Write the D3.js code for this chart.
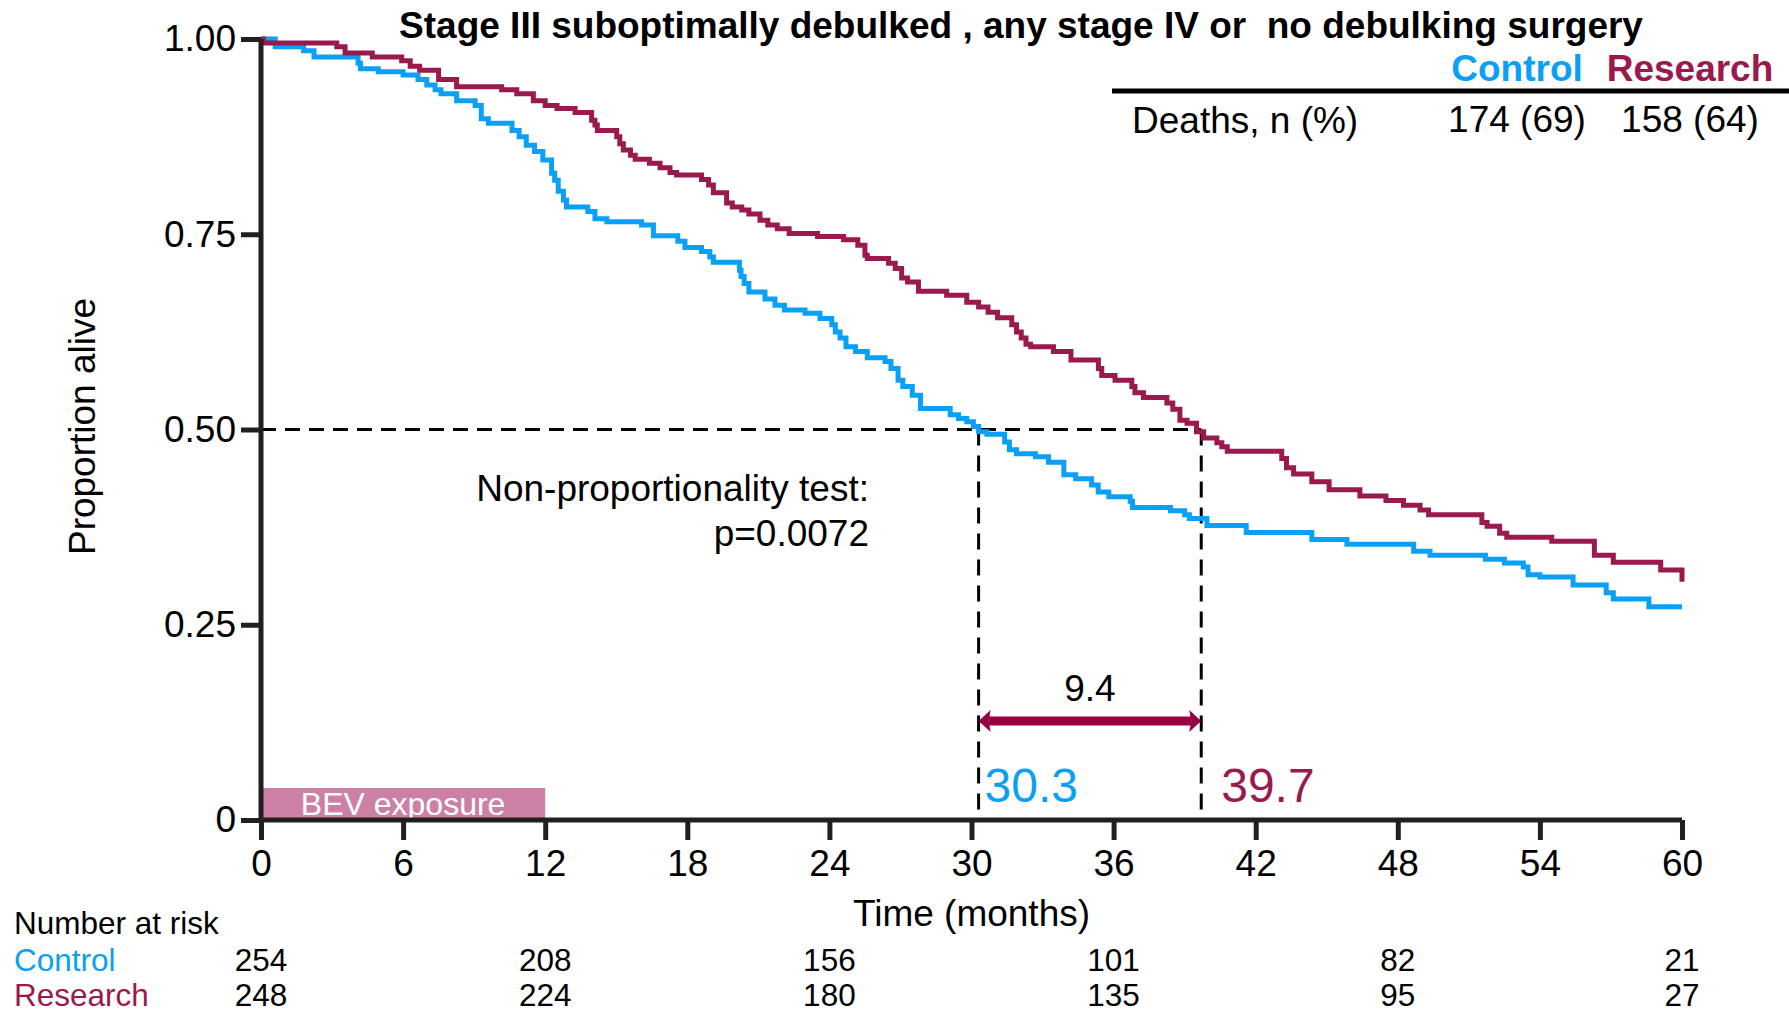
<!DOCTYPE html>
<html>
<head>
<meta charset="utf-8">
<script src="https://cdnjs.cloudflare.com/ajax/libs/d3/7.8.5/d3.min.js"></script>
<style>
    body { margin: 0; background: #fff; }
    svg text { font-family: "Liberation Sans", Arial, sans-serif; }
</style>
</head>
<body>
<div id="chart"></div>
<script>

// Kaplan-Meier steps: time (months) at which the curve drops, and the new proportion
var controlTime = [0, 0.6, 1.8, 2.24, 4.1, 4.2, 4.95, 6.0, 6.63, 7.0, 7.35, 7.6, 8.26, 9.04, 9.3, 9.6, 10.6, 10.9, 11.2, 11.55,
    11.9, 12.27, 12.4, 12.55, 12.77, 12.9, 13.8, 14.1, 14.6, 16.07, 16.57, 17.6, 17.9, 18.6, 18.95, 19.1, 20.2, 20.27, 20.4, 20.6,
    21.28, 21.7, 22.1, 22.97, 23.6, 24.1, 24.25, 24.45, 24.7, 25.1, 25.6, 26.35, 26.6, 26.9, 27.1, 27.5, 27.85, 29.1, 29.45, 29.8,
    30.08, 30.3, 30.65, 31.4, 31.6, 31.9, 32.7, 33.25, 33.9, 34.4, 35.07, 35.35, 35.8, 36.7, 36.8, 38.4, 39.0, 39.2, 39.94, 41.6,
    44.37, 45.85, 48.67, 49.36, 51.7, 52.5, 53.3, 53.5, 54.0, 55.4, 56.8, 57.1, 58.6, 60];
var controlSurv = [1.0, 0.990, 0.985, 0.977, 0.969, 0.962, 0.958, 0.954, 0.948, 0.941, 0.935, 0.930, 0.921, 0.915, 0.898, 0.892, 0.883, 0.875, 0.864, 0.856,
    0.845, 0.828, 0.819, 0.805, 0.794, 0.785, 0.779, 0.770, 0.766, 0.762, 0.748, 0.741, 0.733, 0.728, 0.721, 0.714, 0.704, 0.696, 0.687, 0.676,
    0.667, 0.659, 0.653, 0.649, 0.642, 0.634, 0.625, 0.617, 0.606, 0.600, 0.592, 0.587, 0.578, 0.563, 0.555, 0.544, 0.527, 0.519, 0.514, 0.510,
    0.504, 0.497, 0.494, 0.484, 0.474, 0.469, 0.465, 0.458, 0.442, 0.437, 0.429, 0.420, 0.414, 0.408, 0.400, 0.396, 0.391, 0.386, 0.377, 0.368,
    0.359, 0.353, 0.344, 0.339, 0.334, 0.329, 0.324, 0.314, 0.311, 0.301, 0.291, 0.283, 0.273, 0.273];

var researchTime = [0, 0.1, 3.2, 3.55, 4.7, 5.94, 6.3, 6.7, 7.5, 8.26, 10.16, 10.8, 11.5, 12.0, 12.5, 13.26, 13.96, 14.1, 14.2, 15.02,
    15.15, 15.3, 15.6, 15.8, 16.4, 16.85, 17.27, 17.55, 18.6, 18.9, 19.1, 19.66, 19.9, 20.3, 20.6, 21.07, 21.4, 21.8, 22.3, 23.5,
    24.6, 25.2, 25.5, 25.6, 26.5, 26.78, 27.05, 27.3, 27.76, 28.95, 29.8, 30.3, 30.7, 31.1, 31.7, 31.9, 32.1, 32.3, 32.5, 33.46,
    34.2, 35.36, 35.5, 36.06, 36.77, 36.9, 37.26, 38.25, 38.5, 38.8, 39.1, 39.5, 39.8, 40.36, 40.57, 40.8, 43.1, 43.3, 43.6, 44.37,
    45.1, 46.4, 47.5, 48.24, 48.94, 49.3, 51.55, 51.77, 52.3, 52.6, 54.5, 56.3, 57.1, 59.1, 60, 60];
var researchSurv = [1.0, 0.995, 0.990, 0.982, 0.977, 0.972, 0.965, 0.960, 0.948, 0.939, 0.935, 0.930, 0.921, 0.915, 0.911, 0.906, 0.896, 0.890, 0.883, 0.875,
    0.866, 0.858, 0.851, 0.846, 0.841, 0.835, 0.829, 0.826, 0.820, 0.813, 0.803, 0.790, 0.785, 0.781, 0.776, 0.768, 0.762, 0.757, 0.751, 0.747,
    0.743, 0.736, 0.723, 0.719, 0.713, 0.706, 0.694, 0.689, 0.677, 0.672, 0.663, 0.657, 0.650, 0.643, 0.634, 0.625, 0.617, 0.609, 0.606, 0.600,
    0.589, 0.578, 0.569, 0.563, 0.555, 0.547, 0.541, 0.534, 0.526, 0.512, 0.508, 0.497, 0.489, 0.483, 0.478, 0.472, 0.463, 0.451, 0.443, 0.433,
    0.423, 0.415, 0.409, 0.403, 0.397, 0.391, 0.381, 0.376, 0.367, 0.362, 0.357, 0.339, 0.330, 0.320, 0.320, 0.305];

var xTicks = [0, 6, 12, 18, 24, 30, 36, 42, 48, 54, 60];
var yTicks = [0, 0.25, 0.5, 0.75, 1];
var yTickLabels = ["0", "0.25", "0.50", "0.75", "1.00"];

var riskTimes = [0, 12, 24, 36, 48, 60];
var controlRisk = [254, 208, 156, 101, 82, 21];
var researchRisk = [248, 224, 180, 135, 95, 27];

var controlMedian = 30.3;
var researchMedian = 39.7;
var bevEnd = 12;

var groupNames = ["Control", "Research"];
var deathsLabel = "Deaths, n (%)";
var deathsText = ["174 (69)", "158 (64)"];

var blue = "#0aa0f6";
var maroon = "#9a1a4e";
var arrowColor = "#990044";
var axisColor = "#231f20";

var width = 1789, height = 1014;

var svg = d3.select("#chart").append("svg")
    .attr("width", width)
    .attr("height", height);

// Scales
var x = d3.scaleLinear().domain([0, 60]).range([261, 1682]);
var y = d3.scaleLinear().domain([0, 1]).range([820, 39]);

// BEV exposure bar
svg.append("rect")
    .attr("x", x(0))
    .attr("y", y(0) - 32)
    .attr("width", x(bevEnd) - x(0))
    .attr("height", 32)
    .attr("fill", "#cd80a5");

svg.append("text")
    .attr("x", (x(0) + x(bevEnd)) / 2)
    .attr("y", y(0) - 5)
    .attr("text-anchor", "middle")
    .attr("font-size", 32)
    .attr("fill", "#fff")
    .text("BEV exposure");

// Median dashed guides
var dash = svg.append("g")
    .attr("stroke", "#000")
    .attr("stroke-width", 3)
    .attr("fill", "none");

dash.append("line")
    .attr("x1", x(0)).attr("x2", x(researchMedian))
    .attr("y1", y(0.5)).attr("y2", y(0.5))
    .attr("stroke-dasharray", "15,9");

[controlMedian, researchMedian].forEach(function(m){
    dash.append("line")
        .attr("x1", x(m)).attr("x2", x(m))
        .attr("y1", y(0.5)).attr("y2", y(0))
        .attr("stroke-dasharray", "16,10");
});

// Survival curves
var line = d3.line()
    .curve(d3.curveStepAfter)
    .x(function(d){ return x(d[0]); })
    .y(function(d){ return y(d[1]); });

var controlData = controlTime.map(function(t, i){ return [t, controlSurv[i]]; });
var researchData = researchTime.map(function(t, i){ return [t, researchSurv[i]]; });

svg.append("path")
    .datum(controlData)
    .attr("d", line)
    .attr("fill", "none")
    .attr("stroke", blue)
    .attr("stroke-width", 5);

svg.append("path")
    .datum(researchData)
    .attr("d", line)
    .attr("fill", "none")
    .attr("stroke", maroon)
    .attr("stroke-width", 5);

// Axes
var xAxis = d3.axisBottom(x).tickValues(xTicks).tickSize(20).tickPadding(10);
var yAxis = d3.axisLeft(y).tickValues(yTicks).tickSize(20).tickPadding(5)
    .tickFormat(function(d, i){ return yTickLabels[i]; });

var gx = svg.append("g")
    .attr("transform", "translate(0," + y(0) + ")")
    .call(xAxis);
var gy = svg.append("g")
    .attr("transform", "translate(" + x(0) + ",0)")
    .call(yAxis);

[gx, gy].forEach(function(g){
    g.select(".domain").attr("stroke", axisColor).attr("stroke-width", 5);
    g.selectAll(".tick line").attr("stroke", axisColor).attr("stroke-width", 5);
    g.selectAll(".tick text")
        .attr("fill", "#000")
        .attr("font-size", 37)
        .style("font-family", "'Liberation Sans', Arial, sans-serif");
});
gx.select(".domain").attr("d", "M" + x(0) + ",0H" + x(60));
gy.select(".domain").attr("d", "M0," + y(0) + "V" + y(1));

// Axis titles
svg.append("text")
    .attr("x", x(30))
    .attr("y", 926)
    .attr("text-anchor", "middle")
    .attr("font-size", 37)
    .text("Time (months)");

svg.append("text")
    .attr("transform", "translate(95," + (y(0.5) - 3) + ") rotate(-90)")
    .attr("text-anchor", "middle")
    .attr("font-size", 37)
    .text("Proportion alive");

// Title
svg.append("text")
    .attr("x", 1021)
    .attr("y", 38)
    .attr("text-anchor", "middle")
    .attr("font-size", 37)
    .attr("font-weight", "bold")
    .style("white-space", "pre")
    .text("Stage III suboptimally debulked , any stage IV or  no debulking surgery");

// Deaths table
svg.append("text")
    .attr("x", 1517).attr("y", 81)
    .attr("text-anchor", "middle")
    .attr("font-size", 37).attr("font-weight", "bold")
    .attr("fill", blue)
    .text(groupNames[0]);
svg.append("text")
    .attr("x", 1690).attr("y", 81)
    .attr("text-anchor", "middle")
    .attr("font-size", 37).attr("font-weight", "bold")
    .attr("fill", maroon)
    .text(groupNames[1]);

svg.append("line")
    .attr("x1", 1112).attr("x2", width)
    .attr("y1", 91).attr("y2", 91)
    .attr("stroke", "#000")
    .attr("stroke-width", 5);

svg.append("text")
    .attr("x", 1132).attr("y", 133)
    .attr("font-size", 37)
    .text(deathsLabel);
svg.append("text")
    .attr("x", 1517).attr("y", 132)
    .attr("text-anchor", "middle")
    .attr("font-size", 37)
    .text(deathsText[0]);
svg.append("text")
    .attr("x", 1690).attr("y", 132)
    .attr("text-anchor", "middle")
    .attr("font-size", 37)
    .text(deathsText[1]);

// Non-proportionality annotation
svg.append("text")
    .attr("x", 869).attr("y", 501)
    .attr("text-anchor", "end")
    .attr("font-size", 37)
    .text("Non-proportionality test:");
svg.append("text")
    .attr("x", 869).attr("y", 546)
    .attr("text-anchor", "end")
    .attr("font-size", 37)
    .text("p=0.0072");

// Median difference arrow
var arrowY = 721;
var x1 = x(controlMedian), x2 = x(researchMedian);

svg.append("line")
    .attr("x1", x1 + 10).attr("x2", x2 - 10)
    .attr("y1", arrowY).attr("y2", arrowY)
    .attr("stroke", arrowColor)
    .attr("stroke-width", 9);

svg.append("path")
    .attr("d", "M" + x1 + "," + arrowY + "l12,-11l-2,11l2,11z")
    .attr("fill", arrowColor);
svg.append("path")
    .attr("d", "M" + x2 + "," + arrowY + "l-12,-11l2,11l-2,11z")
    .attr("fill", arrowColor);

svg.append("text")
    .attr("x", (x1 + x2) / 2)
    .attr("y", 701)
    .attr("text-anchor", "middle")
    .attr("font-size", 37)
    .text(d3.format(".1f")(researchMedian - controlMedian));

svg.append("text")
    .attr("x", x1 + 6).attr("y", 802)
    .attr("font-size", 48)
    .attr("fill", blue)
    .text(controlMedian.toFixed(1));
svg.append("text")
    .attr("x", x2 + 20).attr("y", 802)
    .attr("font-size", 48)
    .attr("fill", maroon)
    .text(researchMedian.toFixed(1));

// Number at risk table
svg.append("text")
    .attr("x", 14).attr("y", 934)
    .attr("font-size", 31.5)
    .text("Number at risk");

var riskRows = [
    { name: groupNames[0], color: blue, values: controlRisk, y: 971 },
    { name: groupNames[1], color: maroon, values: researchRisk, y: 1006 }
];

riskRows.forEach(function(row){
    svg.append("text")
        .attr("x", 14).attr("y", row.y)
        .attr("font-size", 31.5)
        .attr("fill", row.color)
        .text(row.name);

    svg.selectAll(null)
        .data(row.values)
        .enter().append("text")
        .attr("x", function(d, i){ return x(riskTimes[i]); })
        .attr("y", row.y)
        .attr("text-anchor", "middle")
        .attr("font-size", 31.5)
        .text(function(d){ return d; });
});

</script>
</body>
</html>
